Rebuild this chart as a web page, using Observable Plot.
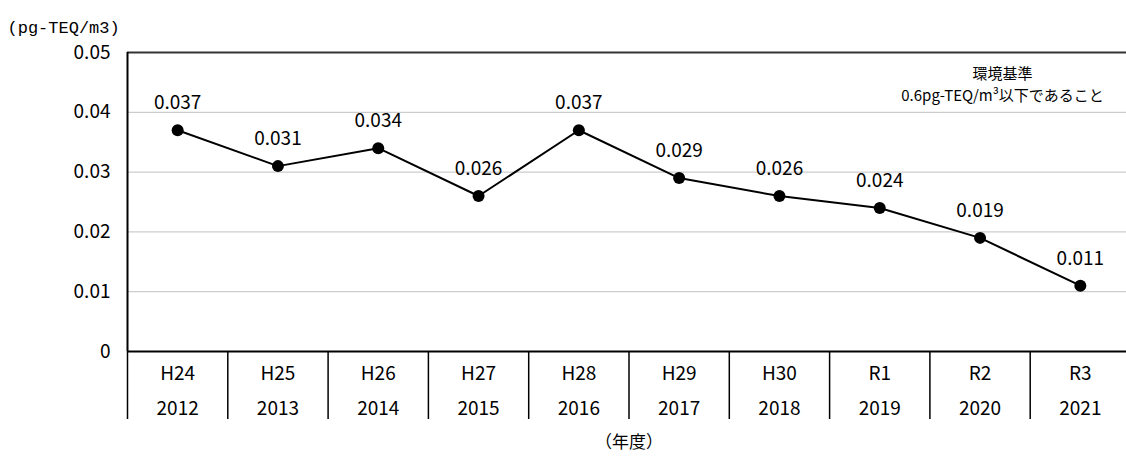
<!DOCTYPE html>
<html>
<head>
<meta charset="utf-8">
<script src="https://cdn.jsdelivr.net/npm/d3@7"></script>
<script src="https://cdn.jsdelivr.net/npm/@observablehq/plot@0.6"></script>
<style>
  html, body { margin: 0; padding: 0; background: #fff; }
  #chart svg { display: block; }
</style>
</head>
<body>
<div id="chart"></div>
<script>
// Data
const eras = ["H24", "H25", "H26", "H27", "H28", "H29", "H30", "R1", "R2", "R3"];
const years = ["2012", "2013", "2014", "2015", "2016", "2017", "2018", "2019", "2020", "2021"];
const values = [0.037, 0.031, 0.034, 0.026, 0.037, 0.029, 0.026, 0.024, 0.019, 0.011];
const yTicks = [0, 0.01, 0.02, 0.03, 0.04, 0.05];
const unitLabel = "(pg-TEQ/m3)";
const xTitle = "（年度）";
const noteLines = ["環境基準", "0.6pg-TEQ/m³以下であること"];

const rows = values.map((v, i) => ({i, v, era: eras[i], year: years[i], label: v.toFixed(3)}));
const edges = d3.range(eras.length + 1).map(k => k - 0.5);

const W = 1126, H = 457, mTop = 52, mBottom = 106;
const pxPerUnit = (H - mTop - mBottom) / (yTicks[yTicks.length - 1] - yTicks[0]);
const dividerBottom = -68 / pxPerUnit; // dividers reach 68px below the baseline

const mono = "'Liberation Mono', 'DejaVu Sans Mono', monospace";
const cjk = "'Noto Sans CJK JP', 'Noto Sans', sans-serif";

const chart = Plot.plot({
  width: W,
  height: H,
  marginLeft: 127,
  marginRight: -4,
  marginTop: mTop,
  marginBottom: mBottom,
  x: {domain: [-0.5, eras.length - 0.5], axis: null},
  y: {domain: [0, 0.05], axis: null},
  style: {fontFamily: cjk, background: "#fff", overflow: "visible"},
  marks: [
    Plot.ruleY(yTicks.filter(d => d > 0 && d < 0.05), {stroke: "#c0c0c0", strokeWidth: 1}),
    Plot.ruleY([0.05], {stroke: "#333", strokeWidth: 2}),
    Plot.ruleX(edges, {y1: 0, y2: dividerBottom, stroke: "#000", strokeWidth: 1.5}),
    Plot.ruleX([edges[0]], {y1: 0, y2: 0.05, stroke: "#000", strokeWidth: 2}),
    Plot.ruleY([0], {stroke: "#000", strokeWidth: 2}),
    Plot.line(rows, {x: "i", y: "v", stroke: "#000", strokeWidth: 2}),
    Plot.dot(rows, {x: "i", y: "v", r: 6, fill: "#000", stroke: "none"}),
    Plot.text(rows, {x: "i", y: "v", text: "label", dy: -27, fontSize: 19, fill: "#000",
      fontFamily: cjk, letterSpacing: "0.5px"}),
    Plot.text(rows, {x: "i", y: () => 0, text: "era", dy: 22, fontSize: 19, fill: "#000",
      fontFamily: cjk}),
    Plot.text(rows, {x: "i", y: () => 0, text: "year", dy: 57, fontSize: 19, fill: "#000",
      fontFamily: cjk}),
    Plot.text(yTicks, {x: () => -0.5, y: d => d, text: d => d === 0 ? "0" : d.toFixed(2),
      dx: -17, textAnchor: "end", fontSize: 19, fill: "#000", fontFamily: cjk, letterSpacing: "0.5px"}),
    Plot.text([unitLabel], {frameAnchor: "top-left", dx: -120, dy: -32, textAnchor: "start",
      fontSize: 17, fill: "#000", fontFamily: mono, letterSpacing: "-0.3px"}),
    Plot.text([xTitle], {frameAnchor: "bottom", dy: 96, fontSize: 17, fill: "#000", fontFamily: cjk}),
    Plot.text([noteLines[0]], {frameAnchor: "top-right", dx: -128, dy: 16, textAnchor: "middle",
      fontSize: 15, fill: "#000", fontFamily: cjk}),
    Plot.text([noteLines[1]], {frameAnchor: "top-right", dx: -128, dy: 38, textAnchor: "middle",
      fontSize: 15, fill: "#000", fontFamily: cjk})
  ]
});
document.getElementById("chart").appendChild(chart);
</script>
</body>
</html>
